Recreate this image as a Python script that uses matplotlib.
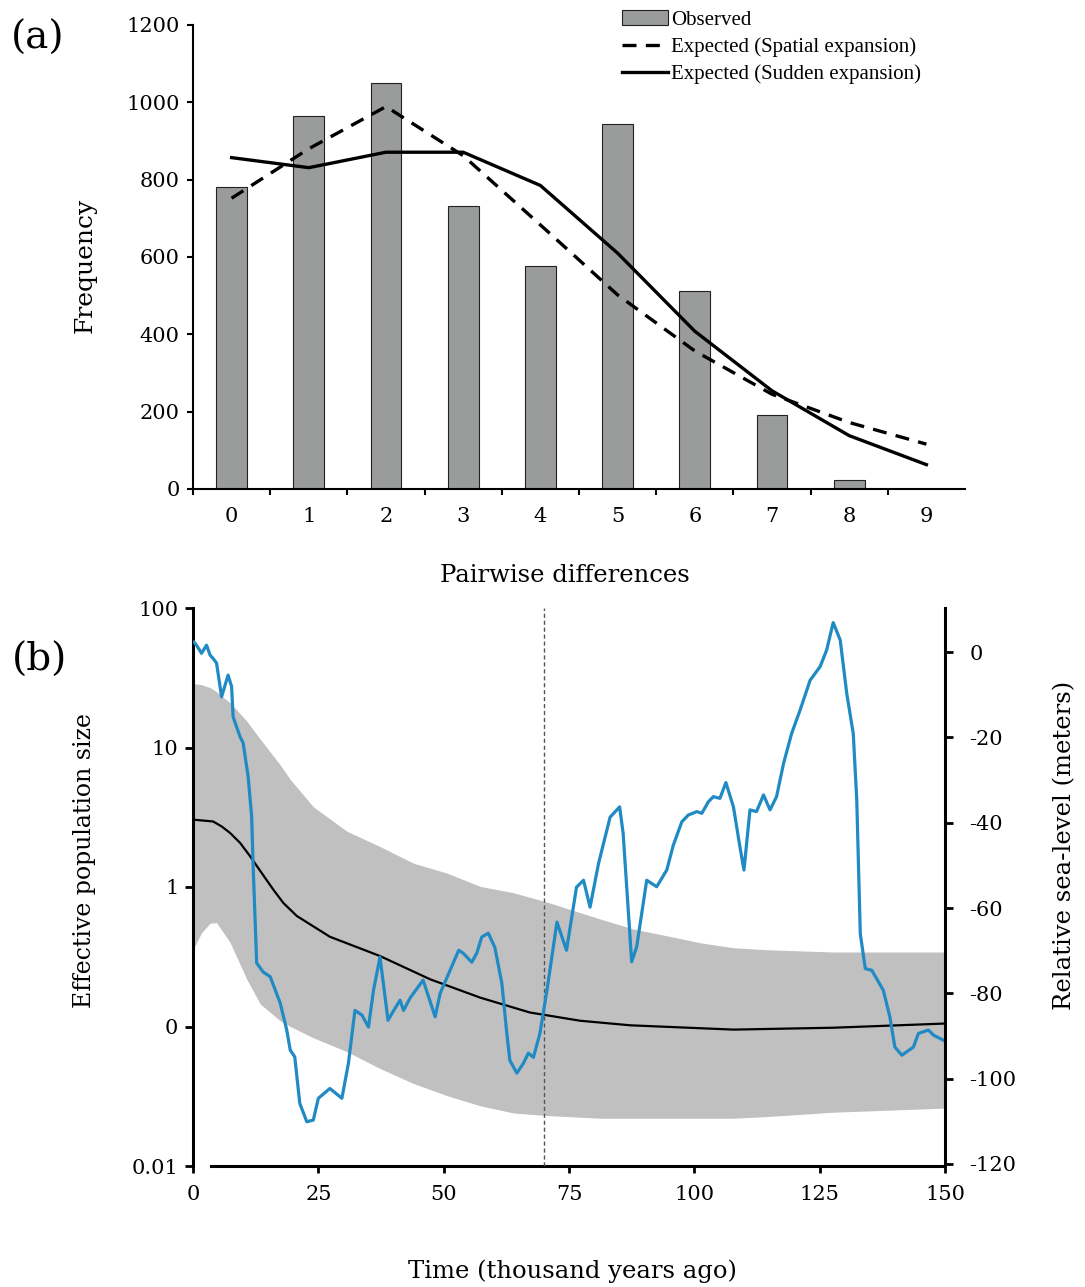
import matplotlib

matplotlib.use("Agg")

import matplotlib.pyplot as plt
import numpy as np
from matplotlib.ticker import NullLocator

plt.rcParams["font.family"] = ["DejaVu Serif"]
plt.rcParams["axes.unicode_minus"] = False

# ---------------------------------------------------------------------------
# (a) mismatch distribution
# ---------------------------------------------------------------------------
DIFFS = list(range(10))
OBS_X = list(range(9))
OBSERVED = [780, 965, 1050, 733, 576, 944, 512, 192, 22]
SPATIAL = [752, 880, 989, 862, 683, 502, 357, 245, 172, 116]
SUDDEN = [857, 831, 871, 871, 785, 610, 408, 254, 138, 63]

# ---------------------------------------------------------------------------
# (b) skyline plot + sea level
# ---------------------------------------------------------------------------
BAND_X = [0, 1.7, 3.4, 4.7, 7.4, 10.7, 13.4, 17.4, 19.4, 24, 30.7, 37.3, 44,
          50.6, 57.3, 63.9, 70.6, 81.2, 87.8, 94.5, 101.2, 107.8, 114.4, 127.7, 150]
BAND_HI = [28.8, 28.2, 26.9, 25.1, 20.9, 15.5, 11.5, 7.5, 5.9, 3.76, 2.51, 1.95, 1.48,
           1.26, 1.01, 0.91, 0.78, 0.59, 0.50, 0.447, 0.398, 0.367, 0.355, 0.342, 0.342]
BAND_LO = [0.355, 0.47, 0.55, 0.555, 0.40, 0.219, 0.145, 0.110, 0.100, 0.083, 0.066,
           0.050, 0.039, 0.032, 0.027, 0.024, 0.023, 0.022, 0.022, 0.022, 0.022, 0.022,
           0.0226, 0.0243, 0.026]

MED_X = [0, 4, 5.7, 7.4, 9.4, 11.4, 13.7, 16, 18, 20.7, 27.3, 37.3, 47.3, 57.3,
         67.2, 77.2, 87.2, 107.8, 127.7, 150]
MEDIAN = [3.04, 2.95, 2.72, 2.44, 2.07, 1.66, 1.26, 0.96, 0.77, 0.62, 0.44, 0.32,
          0.218, 0.161, 0.126, 0.110, 0.102, 0.095, 0.098, 0.105]

SEA_X = [0.2, 0.7, 1.7, 2.7, 3.4, 4.0, 4.7, 5.7, 7.0, 7.7, 8.0, 9.4, 10.0, 11.0,
         11.7, 12.0, 12.7, 14.0, 15.4, 17.4, 18.7, 19.4, 20.3, 21.3, 22.7, 24.0,
         25.0, 27.3, 29.7, 31.0, 32.3, 33.7, 35.0, 36.0, 37.3, 38.9, 39.9, 41.3,
         42.0, 43.3, 45.9, 48.3, 49.3, 53.0,
         53.9, 55.6, 56.6, 57.6, 58.9, 60.2, 61.6, 62.6, 63.2, 64.6, 65.9, 66.9,
         67.9, 69.2, 70.6, 72.6, 74.5, 76.5, 77.9, 79.2, 80.9, 83.2, 85.1, 85.8,
         87.5, 88.5, 90.5, 92.5, 94.5, 95.8, 97.5, 98.8, 100.5, 101.5, 102.8, 103.8,
         105.1, 106.3, 107.8, 109.1, 109.9, 111.1, 112.4, 113.8, 115.1, 116.4,
         117.8, 119.4, 121.1, 123.1, 125.1, 126.4, 127.7, 129.1, 130.4, 131.7,
         132.4, 133.1, 134.1, 135.4, 137.7, 139.0, 140.0, 141.4, 143.7, 144.7,
         146.7, 147.7, 149.7]
SEA_LEVEL = [2.3, 1.6, -0.3, 1.6, -0.7, -1.5, -2.6, -10.5, -5.4, -8.1, -15.2, -19.9,
             -21.3, -29.2, -38.6, -50.3, -72.9, -75.0, -76.1, -82.3, -88.6, -93.3,
             -94.9, -105.8, -110.1, -109.7, -104.6, -102.3, -104.6, -96.4, -84.0,
             -85.1, -87.9, -79.3, -71.5, -86.3, -84.3, -81.6, -84.0, -81.1, -76.9,
             -85.5, -80.0, -69.9,
             -70.6, -72.7, -70.6,
             -66.8, -65.9, -69.2, -77.6, -89.4, -95.7, -98.7, -96.4, -94, -95, -89.4,
             -79.3, -63.3, -69.9, -55.1, -53.5, -59.8, -49.5, -38.7, -36.3, -42.5,
             -72.6, -69.1, -53.5, -55, -51.1, -45.3, -39.8, -38.2, -37.4, -37.8,
             -35.1, -33.9, -34.3, -30.6, -36.3, -45.7, -51.1, -37, -37.4, -33.5, -37,
             -33.9, -26.1, -19.1, -13.6, -6.6, -3.4, 0.5, 6.9, 2.8, -9.7, -19.1,
             -34.7, -66, -74.2, -74.6, -79.3, -85.5, -92.6, -94.5, -92.6, -89.4,
             -88.6, -89.8, -91]
MARK_X = 70

W, H = 1085, 1287
fig = plt.figure(figsize=(W / 100, H / 100), dpi=100)
fig.patch.set_facecolor("white")

# ============================================================================
# Panel (a)
# ============================================================================
ax1 = fig.add_axes([193 / W, 1 - 489 / H, 772 / W, 464 / H])
bars = ax1.bar(OBS_X, OBSERVED, width=0.4, color="#9a9c9b", edgecolor="#222222",
               linewidth=0.8, label="Observed", zorder=1)
l_sp, = ax1.plot(DIFFS, SPATIAL, color="black", linewidth=2.4, dashes=(4.2, 2.8),
                 label="Expected (Spatial expansion)", zorder=2)
l_su, = ax1.plot(DIFFS, SUDDEN, color="black", linewidth=2.4,
                 label="Expected (Sudden expansion)", zorder=3)
ax1.set_xlim(-0.5, 9.5)
ax1.set_ylim(0, 1200)
for s in ("top", "right"):
    ax1.spines[s].set_visible(False)
for s in ("left", "bottom"):
    ax1.spines[s].set_linewidth(1.5)
ax1.set_yticks(range(0, 1201, 200))
ax1.set_xticks(DIFFS)
ax1.set_xticks(np.arange(-0.5, 9, 1), minor=True)
ax1.tick_params(axis="y", direction="out", length=4.5, width=1.5, pad=5, labelsize=15)
ax1.tick_params(axis="x", which="major", length=0, pad=13, labelsize=15)
ax1.tick_params(axis="x", which="minor", direction="out", length=4.5, width=1.5)
ax1.legend(handles=[bars, l_sp, l_su],
           loc="upper left", bbox_to_anchor=(622 / W, 1 - 10 / H),
           bbox_transform=fig.transFigure, frameon=False,
           prop={"family": "Liberation Serif", "size": 15},
           handlelength=2.2, handletextpad=0.15, labelspacing=0.36,
           borderpad=0, borderaxespad=0)

fig.text(38 / W, 1 - 38 / H, "(a)", fontsize=28, ha="center", va="center")
fig.text(85 / W, 1 - 265 / H, "Frequency", fontsize=18, rotation=90,
         ha="center", va="center")
fig.text(565 / W, 1 - 575 / H, "Pairwise differences", fontsize=17.5,
         ha="center", va="center")

# ============================================================================
# Panel (b)
# ============================================================================
ax2 = fig.add_axes([193 / W, 1 - 1166 / H, 752 / W, 558 / H])
ax2.set_yscale("log")
ax2.fill_between(BAND_X, BAND_LO, BAND_HI, color="#c0c0c0", linewidth=0, zorder=1)
ax2.plot(MED_X, MEDIAN, color="black", linewidth=1.6, zorder=2)
ax2.axvline(MARK_X, color="#555555", linewidth=1, linestyle=(0, (3, 2)), zorder=3)
ax2.set_xlim(0, 150)
ax2.set_ylim(0.01, 100)
ax2.set_yticks([0.01, 0.1, 1, 10, 100])
ax2.set_yticklabels(["0.01", "0", "1", "10", "100"])
ax2.yaxis.set_minor_locator(NullLocator())
ax2.set_xticks(range(0, 151, 25))
for s in ("top", "right"):
    ax2.spines[s].set_visible(False)
ax2.spines["left"].set_linewidth(2.2)
ax2.spines["bottom"].set_linewidth(2.2)
ax2.spines["bottom"].set_bounds(3.5, 150)
ax2.tick_params(axis="y", direction="out", length=5.5, width=2, pad=5, labelsize=15)
ax2.tick_params(axis="x", direction="out", length=5, width=2, pad=9, labelsize=15)

ax3 = ax2.twinx()
ax3.plot(SEA_X, SEA_LEVEL, color="#1f8ac4", linewidth=2.3)
ax3.set_ylim(-120.47, 10.32)
ax3.set_yticks(range(-120, 1, 20))
for s in ("top", "left", "bottom"):
    ax3.spines[s].set_visible(False)
ax3.spines["right"].set_linewidth(2.2)
ax3.tick_params(axis="y", direction="out", length=5.5, width=2, pad=12, labelsize=15)

fig.text(40 / W, 1 - 660 / H, "(b)", fontsize=28, ha="center", va="center")
fig.text(85 / W, 1 - 860 / H, "Effective population size", fontsize=17,
         rotation=90, ha="center", va="center")
fig.text(1065 / W, 1 - 845 / H, "Relative sea-level (meters)", fontsize=17.5,
         rotation=90, ha="center", va="center")
fig.text(572 / W, 1 - 1271 / H, "Time (thousand years ago)", fontsize=17.5,
         ha="center", va="center")

fig.savefig("out.png", dpi=100)
plt.close(fig)
